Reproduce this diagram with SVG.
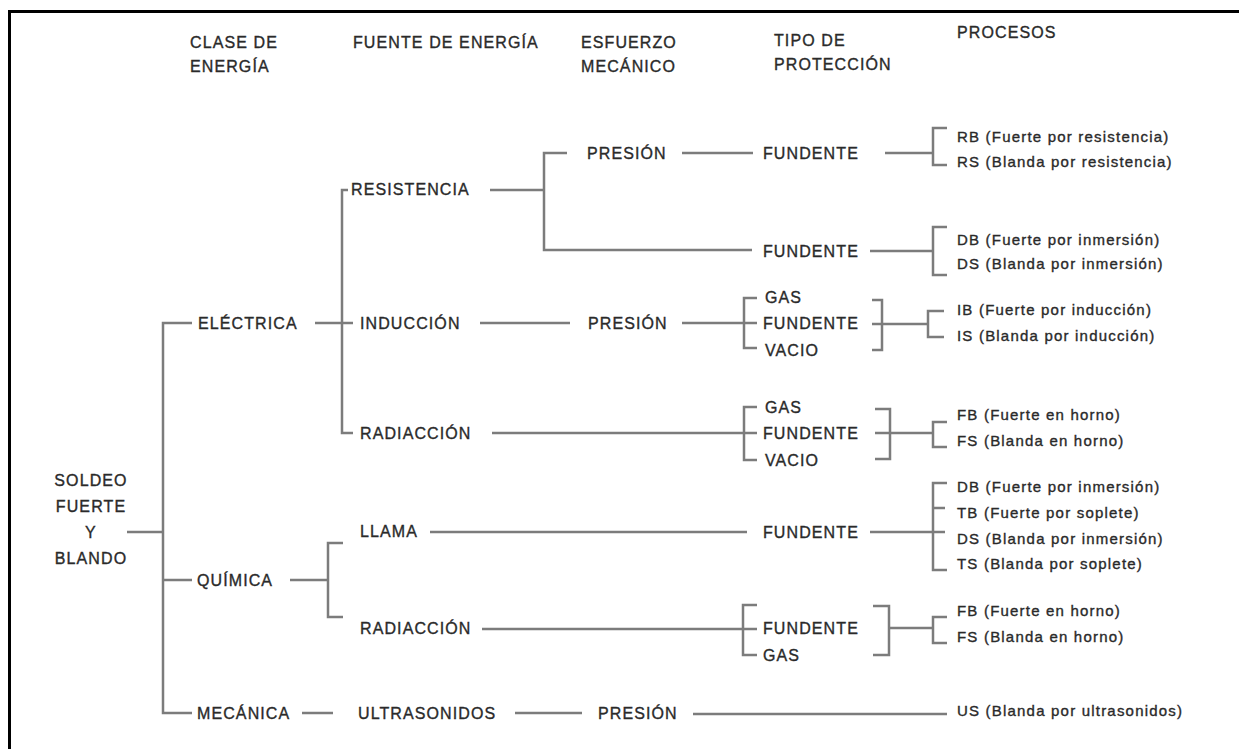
<svg xmlns="http://www.w3.org/2000/svg" width="1239" height="749" viewBox="0 0 1239 749">
<style>
text{font-family:"Liberation Sans",Arial,sans-serif;fill:#2a2a2a;stroke:#2a2a2a;stroke-width:0.35}
.h{font-size:16px;letter-spacing:1.1px}
.n{font-size:16px;letter-spacing:1.1px}
.c{text-anchor:middle}
.p{font-size:15px;letter-spacing:1.2px}
.ln{fill:none;stroke:#7c7c7c;stroke-width:2.5}
.frame{fill:none;stroke:#000;stroke-width:3}
</style>
<rect width="1239" height="749" fill="#fff"/>
<path class="frame" d="M9.5 749 V11.5 H1239"/>
<g id="headers">
<text class="h" x="190" y="48">CLASE DE</text>
<text class="h" x="190" y="72">ENERGÍA</text>
<text class="h" x="353" y="48">FUENTE DE ENERGÍA</text>
<text class="h" x="581" y="48">ESFUERZO</text>
<text class="h" x="581" y="72">MECÁNICO</text>
<text class="h" x="774" y="46">TIPO DE</text>
<text class="h" x="774" y="70">PROTECCIÓN</text>
<text class="h" x="957" y="38">PROCESOS</text>
</g>
<g id="connectors">
<path class="ln" d="M127 532 H163"/>
<path class="ln" d="M192 323 H163 V713 H192 M163 580 H192"/>
<path class="ln" d="M315 323 H353 M348 190 H342 V433 H353"/>
<path class="ln" d="M490 190 H544 M567 153 H544 V250 H752"/>
<path class="ln" d="M682 153 H753"/>
<path class="ln" d="M885 153 H933 M947 128 H933 V165 H947"/>
<path class="ln" d="M870 251 H933 M947 227 H933 V275 H947"/>
<path class="ln" d="M480 323 H570 M682 323 H757 M757 298 H744 V348 H757"/>
<path class="ln" d="M872 300 H882 V350 H872 M872 324 H928 M944 311 H928 V337 H944"/>
<path class="ln" d="M492 433 H757 M757 407 H744 V460 H757"/>
<path class="ln" d="M875 409 H890 V459 H875 M875 433 H933 M947 422 H933 V447 H947"/>
<path class="ln" d="M290 580 H328 M343 543 H328 V617 H343"/>
<path class="ln" d="M430 532 H747 M870 532 H945 M947 483 H933 V570 H947 M933 508 H945"/>
<path class="ln" d="M482 629 H757 M757 605 H743 V655 H757"/>
<path class="ln" d="M873 606 H889 V655 H873 M889 628 H933 M947 617 H933 V643 H947"/>
<path class="ln" d="M302 713 H333 M515 713 H582 M693 714 H947"/>
</g>
<g id="n-soldeo">
<text class="n c" x="91" y="486">SOLDEO</text>
<text class="n c" x="91" y="512">FUERTE</text>
<text class="n c" x="91" y="538">Y</text>
<text class="n c" x="91" y="564">BLANDO</text>
</g>
<g id="n-electrica"><text class="n" x="198" y="329">ELÉCTRICA</text></g>
<g id="n-quimica"><text class="n" x="197" y="586">QUÍMICA</text></g>
<g id="n-mecanica"><text class="n" x="197" y="719">MECÁNICA</text></g>
<g id="n-resistencia"><text class="n" x="351" y="195">RESISTENCIA</text></g>
<g id="n-induccion"><text class="n" x="360" y="329">INDUCCIÓN</text></g>
<g id="n-radiacion-e"><text class="n" x="360" y="439">RADIACCIÓN</text></g>
<g id="n-llama"><text class="n" x="360" y="537">LLAMA</text></g>
<g id="n-radiacion-q"><text class="n" x="360" y="634">RADIACCIÓN</text></g>
<g id="n-ultrasonidos"><text class="n" x="358" y="719">ULTRASONIDOS</text></g>
<g id="n-presion-r"><text class="n" x="587" y="159">PRESIÓN</text></g>
<g id="n-presion-i"><text class="n" x="588" y="329">PRESIÓN</text></g>
<g id="n-presion-u"><text class="n" x="598" y="719">PRESIÓN</text></g>
<g id="n-fundente-r1"><text class="n" x="763" y="159">FUNDENTE</text></g>
<g id="n-fundente-r2"><text class="n" x="763" y="257">FUNDENTE</text></g>
<g id="n-prot-i">
<text class="n" x="765" y="303">GAS</text>
<text class="n" x="763" y="329">FUNDENTE</text>
<text class="n" x="765" y="356">VACIO</text>
</g>
<g id="n-prot-re">
<text class="n" x="765" y="413">GAS</text>
<text class="n" x="763" y="439">FUNDENTE</text>
<text class="n" x="765" y="466">VACIO</text>
</g>
<g id="n-fundente-ll"><text class="n" x="763" y="538">FUNDENTE</text></g>
<g id="n-prot-rq">
<text class="n" x="763" y="634">FUNDENTE</text>
<text class="n" x="763" y="661">GAS</text>
</g>
<g id="p-resistencia">
<text class="p" x="957" y="141.5">RB (Fuerte por resistencia)</text>
<text class="p" x="957" y="166.5">RS (Blanda por resistencia)</text>
</g>
<g id="p-inmersion">
<text class="p" x="957" y="244.5">DB (Fuerte por inmersión)</text>
<text class="p" x="957" y="269">DS (Blanda por inmersión)</text>
</g>
<g id="p-induccion">
<text class="p" x="957" y="314.5">IB (Fuerte por inducción)</text>
<text class="p" x="957" y="340.5">IS (Blanda por inducción)</text>
</g>
<g id="p-horno-e">
<text class="p" x="957" y="419.5">FB (Fuerte en horno)</text>
<text class="p" x="957" y="445.5">FS (Blanda en horno)</text>
</g>
<g id="p-llama">
<text class="p" x="957" y="491.5">DB (Fuerte por inmersión)</text>
<text class="p" x="957" y="518">TB (Fuerte por soplete)</text>
<text class="p" x="957" y="543.5">DS (Blanda por inmersión)</text>
<text class="p" x="957" y="568.5">TS (Blanda por soplete)</text>
</g>
<g id="p-horno-q">
<text class="p" x="957" y="615.5">FB (Fuerte en horno)</text>
<text class="p" x="957" y="642">FS (Blanda en horno)</text>
</g>
<g id="p-ultrasonidos">
<text class="p" x="957" y="715.5">US (Blanda por ultrasonidos)</text>
</g>
</svg>
